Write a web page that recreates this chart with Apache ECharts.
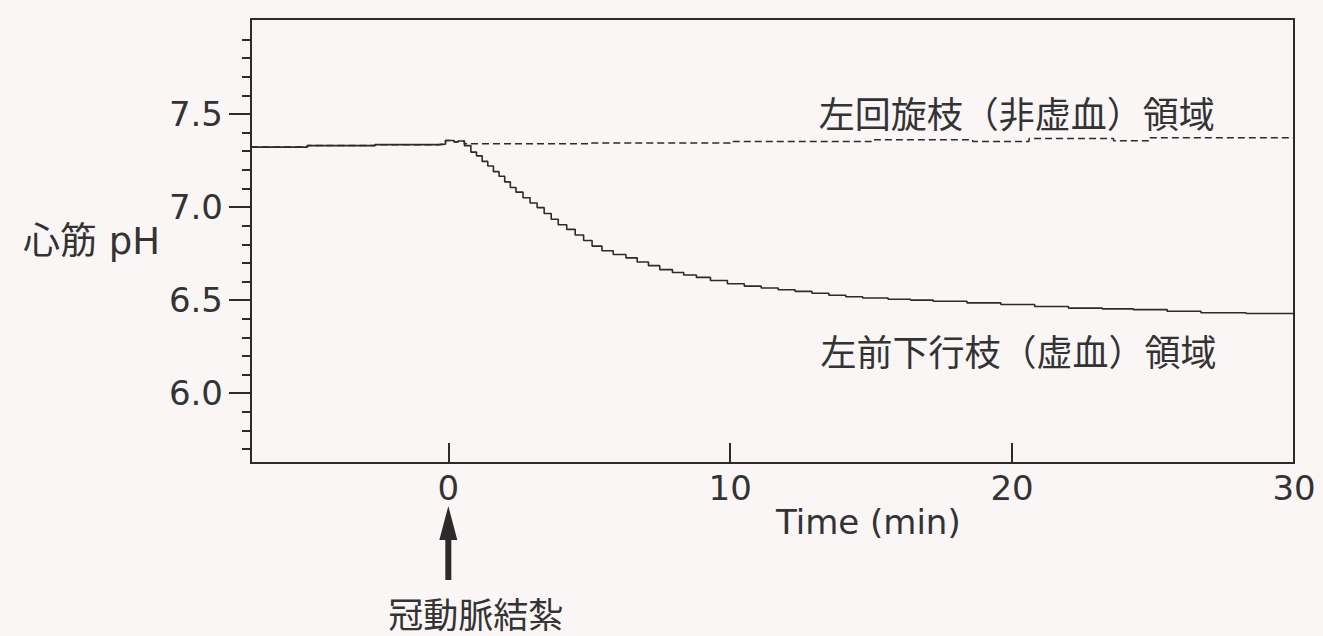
<!DOCTYPE html>
<html>
<head>
<meta charset="utf-8">
<script src="https://cdn.jsdelivr.net/npm/echarts@6/dist/echarts.min.js"></script>
<style>
  html, body { margin: 0; padding: 0; background: #fbf6f6; }
  #chart { width: 1323px; height: 636px; }
</style>
</head>
<body>
<div id="chart"></div>
<script>
// Time after coronary ligation (min) and myocardial pH, ischemic (LAD) region
const ischemicTime = [-7, -5, -2.6, -0.35, -0.1, 0.2, 0.35, 0.57,
  0.8, 1.0, 1.2, 1.4, 1.6, 1.8, 2.0, 2.2, 2.4,
  2.65, 2.9, 3.15, 3.4, 3.65, 3.9,
  4.2, 4.5, 4.8, 5.1, 5.45, 5.85,
  6.3, 6.7, 7.1, 7.5, 7.95, 8.35, 8.8,
  9.3, 9.9, 10.5, 11.1, 11.7, 12.3, 12.9, 13.5, 14.1, 14.7,
  15.6, 16.4, 17.2, 18.4, 19.6, 20.8, 22.0, 23.2, 24.3, 25.5, 26.7, 28.3, 30];
const ischemicPH = [7.322, 7.33, 7.335, 7.338, 7.357, 7.35, 7.355, 7.33,
  7.295, 7.275, 7.245, 7.22, 7.19, 7.165, 7.135, 7.105, 7.08,
  7.05, 7.022, 6.997, 6.965, 6.934, 6.905,
  6.88, 6.85, 6.82, 6.79, 6.765, 6.745,
  6.727, 6.705, 6.685, 6.664, 6.648, 6.635, 6.622,
  6.605, 6.588, 6.575, 6.565, 6.556, 6.547, 6.537, 6.526, 6.518, 6.511,
  6.505, 6.5, 6.494, 6.485, 6.476, 6.466, 6.457, 6.453, 6.449, 6.44, 6.432, 6.428, 6.425];

// Non-ischemic (LCX) region
const controlTime = [-7, -5, -2.6, -0.35, -0.1, 0.2, 0.35, 0.57, 5, 10, 15, 18.6, 20.6, 23.6, 24.9, 30];
const controlPH = [7.322, 7.33, 7.335, 7.338, 7.357, 7.35, 7.355, 7.34, 7.344, 7.352, 7.362, 7.352, 7.368, 7.356, 7.372, 7.374];

// Axis ticks
const xTicks = [0, 10, 20, 30];
const yMajorTicks = [6.0, 6.5, 7.0, 7.5];
const yMinorTicks = [5.7, 5.8, 5.9, 6.1, 6.2, 6.3, 6.4, 6.6, 6.7, 6.8, 6.9,
  7.1, 7.2, 7.3, 7.4, 7.6, 7.7, 7.8, 7.9];

// Text
const xAxisTitle = 'Time (min)';
const yAxisTitle = '心筋 pH';
const controlLabel = '左回旋枝（非虚血）領域';
const ischemicLabel = '左前下行枝（虚血）領域';
const ligationLabel = '冠動脈結紮';

const ink = '#2e2a2b';
const textInk = '#333';
const latinFont = "'DejaVu Sans', 'Noto Sans CJK JP', sans-serif";
const cjkFont = "'Noto Sans CJK JP', sans-serif";

const pairs = (xs, ys) => xs.map((x, i) => [x, ys[i]]);

const chart = echarts.init(document.getElementById('chart'), null, { renderer: 'svg' });

const yRange = { min: 5.625, max: 8.01 };

chart.setOption({
  animation: false,
  backgroundColor: '#fbf6f6',
  grid: {
    left: 251, right: 29, top: 19, bottom: 173,
    show: true, borderColor: ink, borderWidth: 2, backgroundColor: 'transparent'
  },
  xAxis: {
    type: 'value', min: -7, max: 30,
    splitLine: { show: false },
    axisLine: { onZero: false, lineStyle: { color: ink, width: 2 } },
    axisTick: { inside: true, length: 20, customValues: xTicks, lineStyle: { color: ink, width: 2 } },
    axisLabel: { customValues: xTicks, margin: 8, fontSize: 34, fontFamily: latinFont, color: textInk }
  },
  yAxis: [
    {
      type: 'value', min: yRange.min, max: yRange.max, position: 'left',
      splitLine: { show: false },
      axisLine: { show: true, onZero: false, lineStyle: { color: ink, width: 2 } },
      axisTick: { length: 22, customValues: yMajorTicks, lineStyle: { color: ink, width: 2 } },
      axisLabel: {
        customValues: yMajorTicks, margin: 28, fontSize: 34, fontFamily: latinFont, color: textInk,
        formatter: v => v.toFixed(1)
      },
      name: yAxisTitle, nameLocation: 'middle', nameRotate: 0, nameGap: 91,
      nameTextStyle: { fontSize: 37, fontFamily: latinFont, color: textInk }
    },
    {
      type: 'value', min: yRange.min, max: yRange.max, position: 'left',
      splitLine: { show: false },
      axisLine: { show: false, onZero: false },
      axisTick: { length: 9, customValues: yMinorTicks, lineStyle: { color: ink, width: 2 } },
      axisLabel: { show: false }
    }
  ],
  series: [
    {
      name: ischemicLabel, type: 'line', step: 'end', symbol: 'none',
      data: pairs(ischemicTime, ischemicPH),
      lineStyle: { color: ink, width: 1.6 }
    },
    {
      name: controlLabel, type: 'line', step: 'end', symbol: 'none',
      data: pairs(controlTime, controlPH),
      lineStyle: { color: ink, width: 1.5, type: [7, 4] }
    }
  ]
});

// Annotations placed through the chart's own coordinate system
const toPx = (t, v) => chart.convertToPixel({ xAxisIndex: 0, yAxisIndex: 0 }, [t, v]);
const origin = toPx(0, yRange.min);
const ax0 = origin[0], axisBottom = origin[1];

const controlPos = toPx(13.14, 7.49);
const ischemicPos = toPx(13.2, 6.213);

chart.setOption({
  graphic: [
    {
      type: 'text', x: controlPos[0], y: controlPos[1] - 4,
      style: { text: controlLabel, fontSize: 36, fontFamily: cjkFont, fill: textInk, align: 'left', verticalAlign: 'middle' }
    },
    {
      type: 'text', x: ischemicPos[0], y: ischemicPos[1] - 4,
      style: { text: ischemicLabel, fontSize: 36, fontFamily: cjkFont, fill: textInk, align: 'left', verticalAlign: 'middle' }
    },
    {
      type: 'text', x: ax0 + 420, y: axisBottom + 59,
      style: { text: xAxisTitle, fontSize: 34, fontFamily: latinFont, fill: textInk, align: 'center', verticalAlign: 'middle' }
    },
    {
      type: 'polygon',
      shape: { points: [[ax0, axisBottom + 43], [ax0 - 9, axisBottom + 77], [ax0 + 9, axisBottom + 77]] },
      style: { fill: ink }
    },
    {
      type: 'rect',
      shape: { x: ax0 - 3, y: axisBottom + 74, width: 6, height: 43 },
      style: { fill: ink }
    },
    {
      type: 'text', x: ax0 - 60, y: axisBottom + 149,
      style: { text: ligationLabel, fontSize: 35, lineHeight: 35, fontFamily: cjkFont, fill: textInk, align: 'left', verticalAlign: 'middle' }
    }
  ]
});
</script>
</body>
</html>
